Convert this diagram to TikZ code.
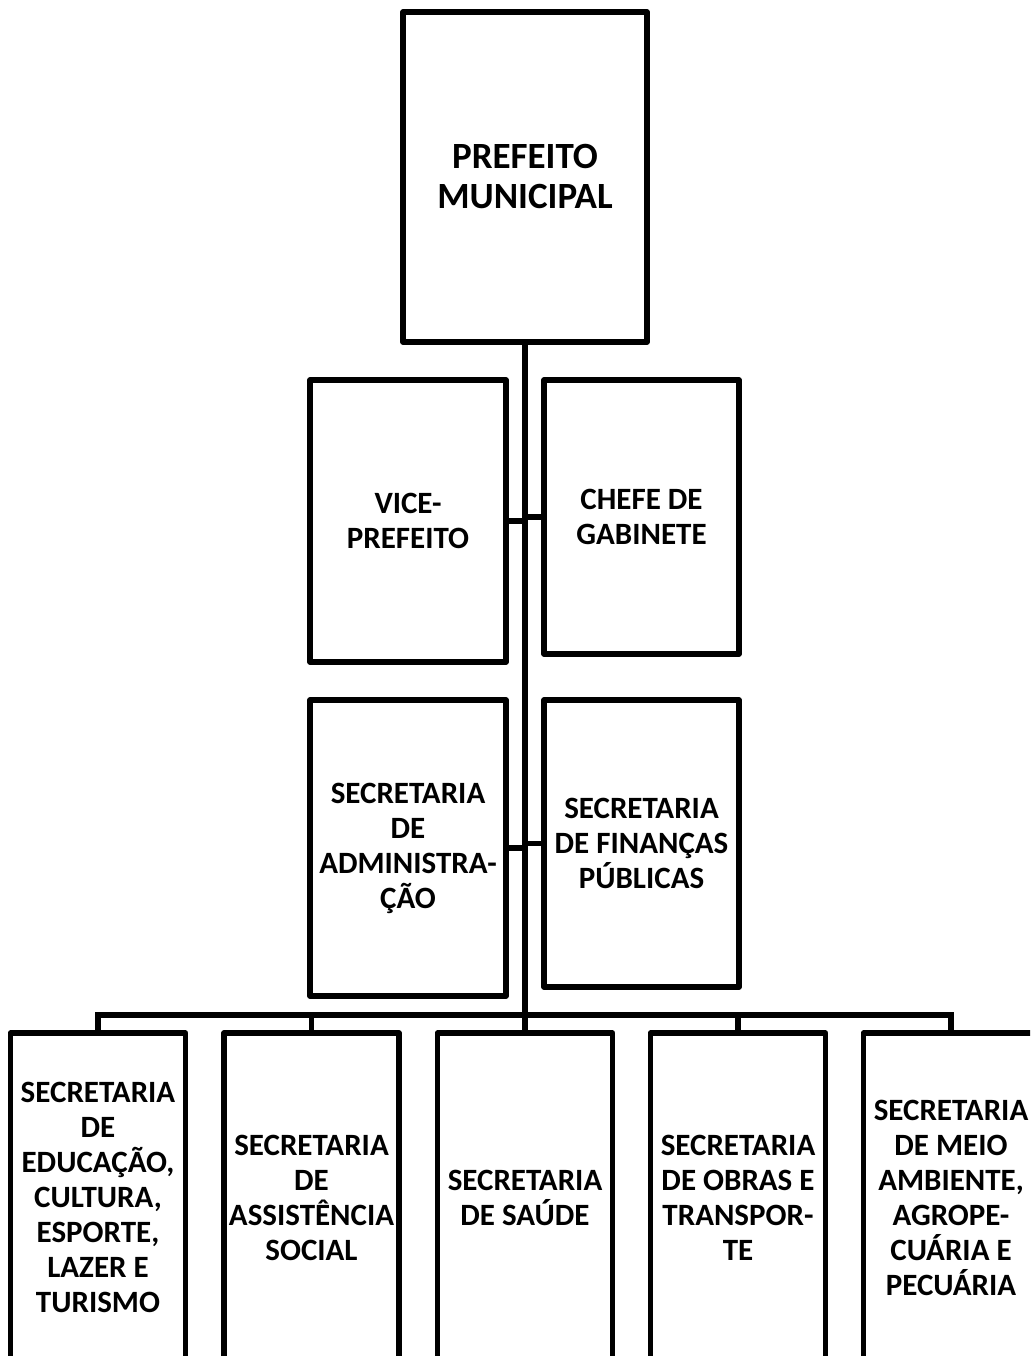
\documentclass[tikz,border=0pt]{standalone}
\usepackage{fontspec}
\setmainfont{Carlito}
\begin{document}
\begin{tikzpicture}[x=1pt,y=-1pt,line width=5.5pt,line join=round,
  box/.style={draw,line width=5.5pt,inner sep=0pt,align=center,
    font=\bfseries\fontsize{31}{35}\selectfont},
  topbox/.style={box,font=\bfseries\fontsize{37}{40}\selectfont},
  lowbox/.style={box,minimum width=175pt,minimum height=329pt}]
\useasboundingbox (0,0) rectangle (1030,1356);
\clip (0,0) rectangle (1030,1356);
\node[topbox,minimum width=244pt,minimum height=330pt] (pm) at (525,177) {PREFEITO\\MUNICIPAL};
\node[box,minimum width=196pt,minimum height=282pt] (vp) at (408,521) {VICE-\\PREFEITO};
\node[box,minimum width=195pt,minimum height=274pt] (cg) at (641.5,517) {CHEFE DE\\GABINETE};
\node[box,minimum width=196pt,minimum height=296pt] (sa) at (408,848) {SECRETARIA\\DE\\ADMINISTRA-\\ÇÃO};
\node[box,minimum width=195pt,minimum height=287pt] (sf) at (641.5,843.5) {SECRETARIA\\DE FINANÇAS\\PÚBLICAS};
\node[lowbox] (b1) at (98,1197.5) {SECRETARIA\\DE\\EDUCAÇÃO,\\CULTURA,\\ESPORTE,\\LAZER E\\TURISMO};
\node[lowbox] (b2) at (311.5,1197.5) {SECRETARIA\\DE\\ASSISTÊNCIA\\SOCIAL};
\node[lowbox] (b3) at (525,1197.5) {SECRETARIA\\DE SAÚDE};
\node[lowbox] (b4) at (738,1197.5) {SECRETARIA\\DE OBRAS E\\TRANSPOR-\\TE};
\node[lowbox] (b5) at (951,1197.5) {SECRETARIA\\DE MEIO\\AMBIENTE,\\AGROPE-\\CUÁRIA E\\PECUÁRIA};
\coordinate (busc) at (525,1015);
\draw (pm.south) -- (busc) -- (b3.north);
\draw (vp.east) -- (vp.east -| pm.south);
\draw (cg.west) -- (cg.west -| pm.south);
\draw (sa.east) -- (sa.east -| pm.south);
\draw (sf.west) -- (sf.west -| pm.south);
\draw[line join=miter] (b1.north) -- (b1.north |- busc) -- (b5.north |- busc) -- (b5.north);
\draw (b2.north) -- (b2.north |- busc);
\draw (b4.north) -- (b4.north |- busc);
\end{tikzpicture}
\end{document}
